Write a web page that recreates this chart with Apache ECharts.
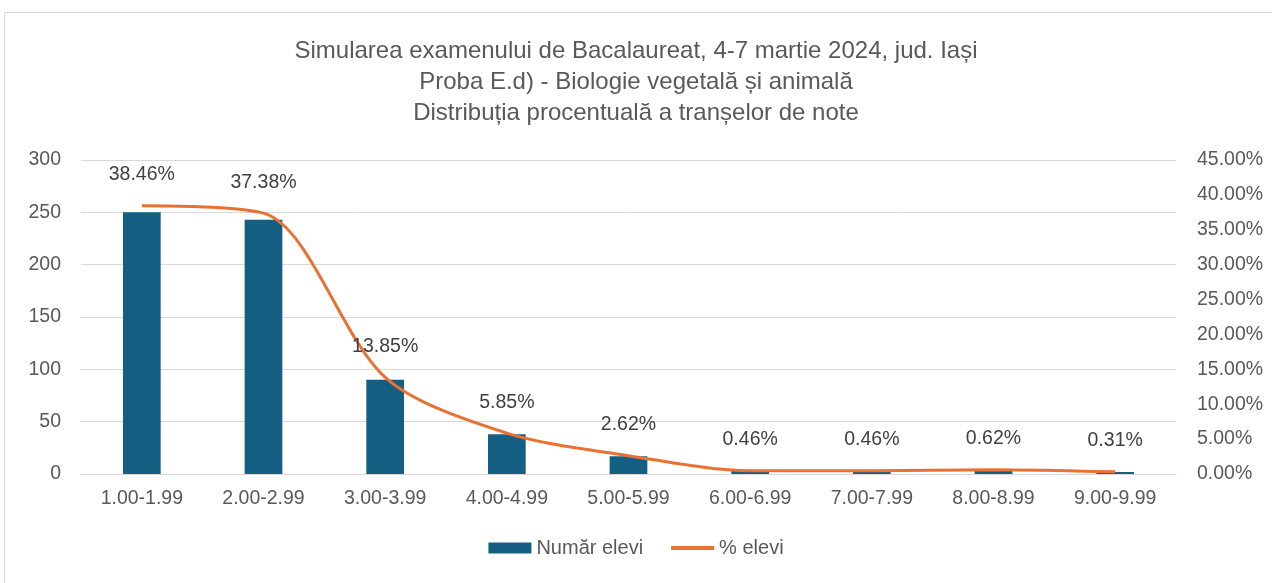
<!DOCTYPE html>
<html>
<head>
<meta charset="utf-8">
<script src="https://cdn.jsdelivr.net/npm/echarts@6/dist/echarts.min.js"></script>
<style>
  html, body { margin: 0; padding: 0; background: #fff; }
  .frame { position: absolute; left: 4px; top: 12px; width: 1280px; height: 600px; border: 1px solid #d9d9d9; box-sizing: border-box; }
  #chart { width: 1272px; height: 583px; }
</style>
</head>
<body>
<div class="frame"></div>
<div id="chart"></div>
<script>
// tranșe de note
const categories = ['1.00-1.99', '2.00-2.99', '3.00-3.99', '4.00-4.99', '5.00-5.99', '6.00-6.99', '7.00-7.99', '8.00-8.99', '9.00-9.99']
// număr elevi
const countValues = [250, 243, 90, 38, 17, 3, 3, 4, 2]
// % elevi
const pctValues = [38.46, 37.38, 13.85, 5.85, 2.62, 0.46, 0.46, 0.62, 0.31]

const titleLines = [
  'Simularea examenului de Bacalaureat, 4-7 martie 2024, jud. Iași',
  'Proba E.d) - Biologie vegetală și animală',
  'Distribuția procentuală a tranșelor de note'
]

const textColor = '#595959'
const font = 'Liberation Sans, Arial, sans-serif'

let myChart = echarts.init(document.getElementById('chart'))
let option = {
  textStyle: { fontFamily: font },
  title: {
    text: titleLines.join('\n'),
    left: 'center',
    top: 31,
    textStyle: { fontSize: 24, fontWeight: 'normal', color: textColor, lineHeight: 31, fontFamily: font }
  },
  legend: {
    bottom: 20,
    left: 'center',
    itemGap: 26,
    itemWidth: 43,
    itemHeight: 11,
    textStyle: { fontSize: 20, color: textColor },
    data: [
      { name: 'Număr elevi', icon: 'rect' },
      { name: '% elevi', itemStyle: { opacity: 0 }, lineStyle: { width: 4 } }
    ]
  },
  grid: { left: 81, right: 96, top: 160, bottom: 109 },
  xAxis: [{
    type: 'category',
    data: categories,
    axisLine: { lineStyle: { color: '#d9d9d9' } },
    axisTick: { show: false },
    axisLabel: { fontSize: 19.5, color: textColor, margin: 15 }
  }],
  yAxis: [{
    type: 'value',
    min: 0,
    max: 300,
    interval: 50,
    axisLine: { show: false },
    axisTick: { show: false },
    axisLabel: { fontSize: 19.5, color: textColor, margin: 20 },
    splitLine: { lineStyle: { color: '#d9d9d9', width: 1 } }
  }, {
    type: 'value',
    min: 0,
    max: 45,
    interval: 5,
    axisLine: { show: false },
    axisTick: { show: false },
    axisLabel: { fontSize: 19.5, color: textColor, margin: 21, formatter: v => v.toFixed(2) + '%' },
    splitLine: { show: false }
  }],
  series: [{
    name: 'Număr elevi',
    type: 'bar',
    barWidth: '31%',
    itemStyle: { color: '#156082' },
    data: countValues
  }, {
    name: '% elevi',
    type: 'line',
    yAxisIndex: 1,
    smooth: 0.3,
    symbol: 'circle',
    symbolSize: 0,
    showSymbol: true,
    lineStyle: { color: '#e97132', width: 3 },
    itemStyle: { color: '#e97132' },
    label: {
      show: true,
      position: 'top',
      distance: 21,
      fontSize: 19.5,
      color: '#404040',
      formatter: p => p.value.toFixed(2) + '%'
    },
    data: pctValues
  }]
}
myChart.setOption(option)
</script>
</body>
</html>
